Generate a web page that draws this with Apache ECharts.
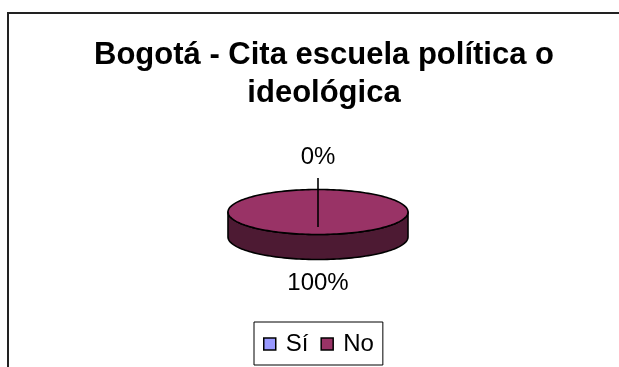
<!DOCTYPE html>
<html>
<head>
<meta charset="utf-8">
<script src="https://cdn.jsdelivr.net/npm/echarts@6/dist/echarts.min.js"></script>
<style>
  html, body { margin: 0; padding: 0; background: #fff; overflow: hidden; }
  #chart { width: 619px; height: 367px; }
</style>
</head>
<body>
<div id="chart"></div>
<script>
// Answers per category
const categories = ['Sí', 'No'];
const values = [0, 100];
const sliceColors = ['#9999FF', '#993366'];
const sideColors = ['#4D4D80', '#4D1A33'];
const titleLines = ['Bogotá - Cita escuela política o', 'ideológica'];

const FONT = '"Liberation Sans", Arial, sans-serif';
const total = values.reduce((a, b) => a + b, 0);

// Tilted pie geometry
const CX = 318, CY = 212, RX = 90, RY = 22.5, DEPTH = 25;
const TAU = Math.PI * 2;

function pt(theta, dy) {
  return [CX + RX * Math.sin(theta), CY - RY * Math.cos(theta) + (dy || 0)];
}
function arc(a, b, dy) {
  const pts = [];
  const n = Math.max(2, Math.ceil((b - a) / TAU * 180));
  for (let k = 0; k <= n; k++) pts.push(pt(a + (b - a) * k / n, dy));
  return pts;
}

function renderSlice(params, api) {
  const i = params.dataIndex;
  const v = api.value(0);
  let before = 0;
  for (let k = 0; k < i; k++) before += values[k];
  const start = before / total * TAU;
  const end = start + v / total * TAU;
  const children = [];

  // front wall of the slice (visible between 90° and 270°)
  const a = Math.max(start, Math.PI / 2), b = Math.min(end, Math.PI * 1.5);
  if (b > a) {
    const wall = arc(a, b, 0).concat(arc(a, b, DEPTH).reverse());
    children.push({
      type: 'polygon', z2: 1,
      shape: { points: wall },
      style: { fill: sideColors[i], stroke: '#000', lineWidth: 1.6, lineJoin: 'round' }
    });
  }

  // top face
  const span = end - start;
  if (span > 0) {
    const pts = span >= TAU - 1e-9 ? arc(start, end, 0) : [[CX, CY]].concat(arc(start, end, 0));
    children.push({
      type: 'polygon', z2: 5,
      shape: { points: pts },
      style: { fill: sliceColors[i], stroke: '#000', lineWidth: 1.6, lineJoin: 'round' }
    });
  }

  // percentage label placed outside the slice middle
  const mid = (start + end) / 2;
  const c = Math.cos(mid);
  const lx = CX + Math.sin(mid) * (RX + 30);
  const ly = CY - c * (c >= 0 ? 55 : 71);
  children.push({
    type: 'text', z2: 10,
    style: {
      text: Math.round(v / total * 100) + '%',
      x: lx, y: ly, align: 'center', verticalAlign: 'middle',
      font: '24px ' + FONT, fill: '#000'
    }
  });
  if (v / total < 0.05) {
    children.push({
      type: 'line', z2: 10,
      shape: { x1: lx, y1: ly + 21, x2: CX, y2: CY + 15 },
      style: { stroke: '#000', lineWidth: 1.6 }
    });
  }
  return { type: 'group', children };
}

const chart = echarts.init(document.getElementById('chart'), null, { renderer: 'canvas' });

const series = [{
  type: 'custom',
  name: 'pie',
  coordinateSystem: 'none',
  data: values.map(v => [v]),
  renderItem: renderSlice,
  silent: true
}].concat(categories.map((name, i) => ({
  type: 'custom',
  name: name,
  coordinateSystem: 'none',
  data: [],
  renderItem: () => null,
  itemStyle: { color: sliceColors[i] }
})));

chart.setOption({
  backgroundColor: '#fff',
  animation: false,
  graphic: [
    {
      // chart area frame: only the top and left edges fall inside the page
      type: 'polyline', z: -1,
      shape: { points: [[8, 400], [8, 13], [640, 13]] },
      style: { fill: null, stroke: '#222', lineWidth: 2 }
    },
    {
      type: 'text',
      style: {
        text: titleLines.join('\n'),
        x: 324, y: 36, align: 'center', verticalAlign: 'top',
        font: 'bold 31px ' + FONT, lineHeight: 38, fill: '#000'
      }
    }
  ],
  legend: {
    data: categories,
    left: 254, top: 322,
    orient: 'horizontal',
    icon: 'rect',
    itemWidth: 12, itemHeight: 12,
    itemGap: 12,
    padding: [10, 9, 9, 9],
    borderColor: '#000', borderWidth: 1,
    selectedMode: false,
    itemStyle: { borderColor: '#000', borderWidth: 1.5 },
    textStyle: { fontFamily: FONT, fontSize: 24, color: '#000', padding: [0, 0, 0, 5] }
  },
  series: series
});
</script>
</body>
</html>
